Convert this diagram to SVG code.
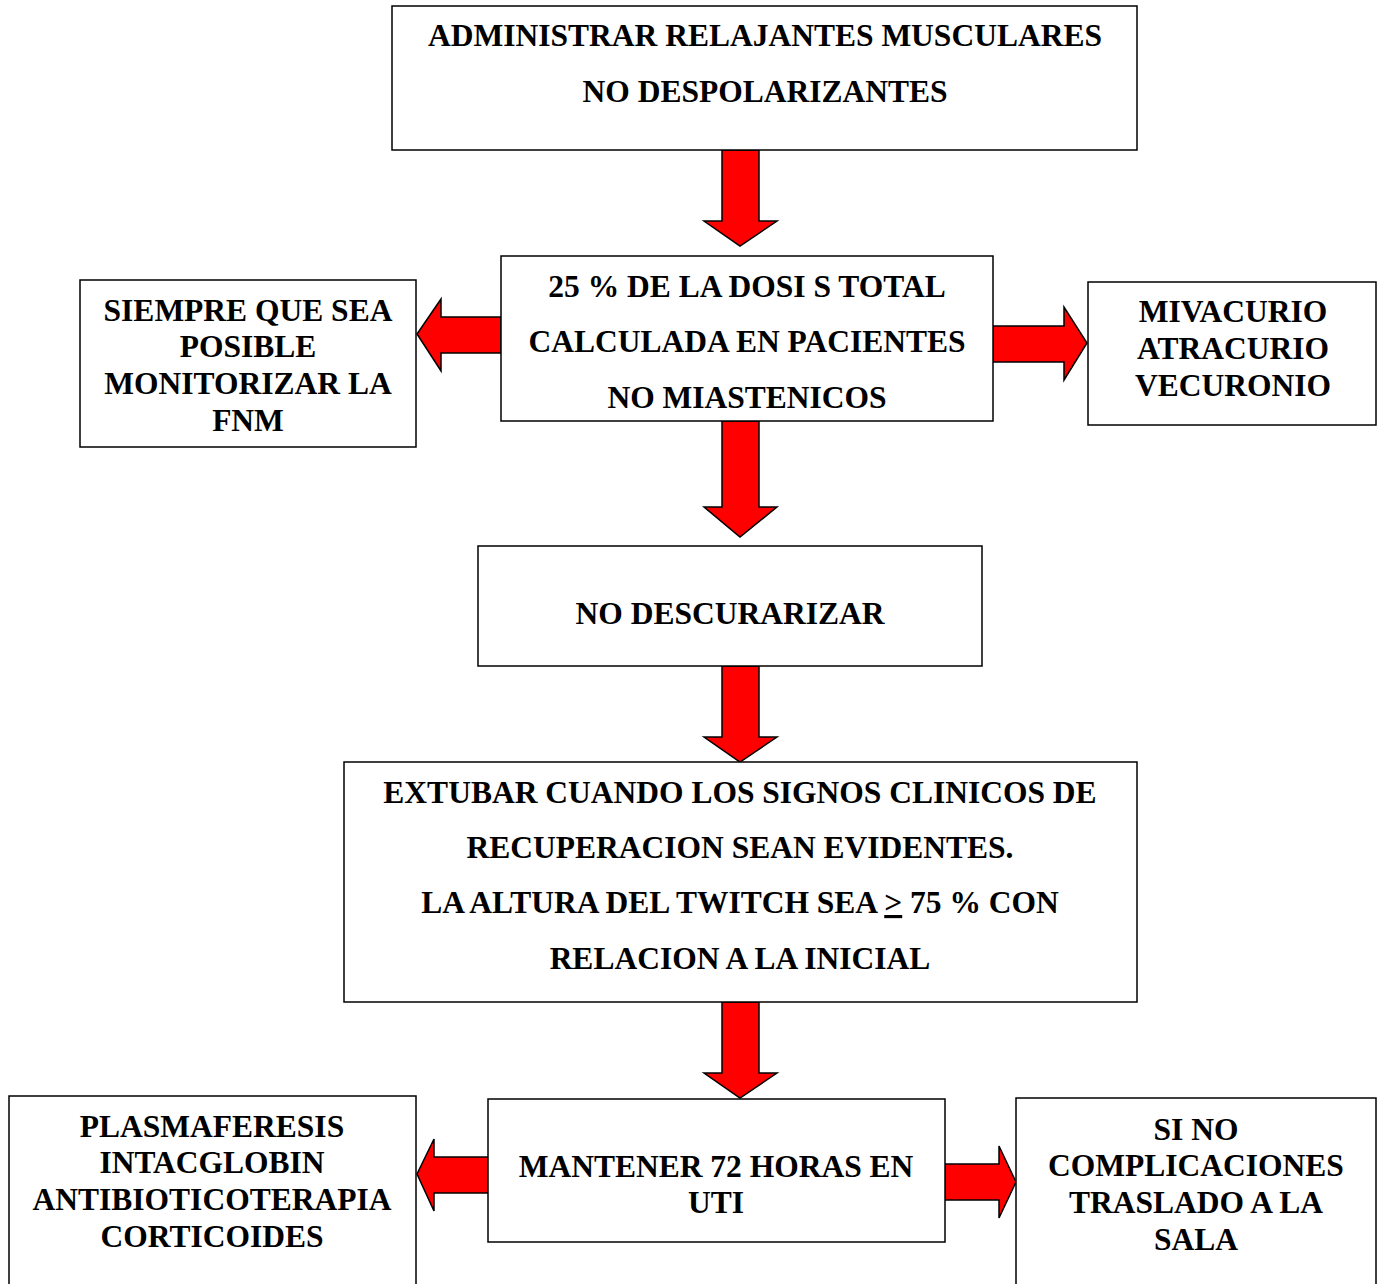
<svg xmlns="http://www.w3.org/2000/svg" width="1377" height="1284" viewBox="0 0 1377 1284">
<style>
.box{fill:#fff;stroke:#000;stroke-width:1.5}
.t{font-family:"Liberation Serif","Times New Roman",serif;font-weight:bold;font-size:31.5px;text-anchor:middle;fill:#000}
.ar{fill:#ff0000;stroke:#000;stroke-width:1.5;stroke-linejoin:miter}
</style>
<rect width="1377" height="1284" fill="#fff"/>
<g id="connectors">
<polygon class="ar" points="722,150 759,150 759,221 777,221 740,246 704,221 722,221"/>
<polygon class="ar" points="722,421 759,421 759,507 777,507 740,537 704,507 722,507"/>
<polygon class="ar" points="722,666 759,666 759,737 777,737 740,762 704,737 722,737"/>
<polygon class="ar" points="722,1002 759,1002 759,1073 777,1073 740,1098 704,1073 722,1073"/>
<polygon class="ar" points="501,317 501,353 441,353 441,371 417,334 441,299 441,317"/>
<polygon class="ar" points="993,326 1064,326 1064,307 1087,343 1064,380 1064,362 993,362"/>
<polygon class="ar" points="488,1157 488,1193 434,1193 434,1211 417,1174 434,1139 434,1157"/>
<polygon class="ar" points="945,1164 999,1164 999,1146 1016,1182 999,1218 999,1200 945,1200"/>
</g>
<g id="n1"><rect class="box" x="392" y="6" width="745" height="144"/>
<text class="t" x="765" y="46">ADMINISTRAR RELAJANTES MUSCULARES</text>
<text class="t" x="765" y="102">NO DESPOLARIZANTES</text></g>
<g id="n2"><rect class="box" x="501" y="256" width="492" height="165"/>
<text class="t" x="747" y="297">25 % DE LA DOSI S TOTAL</text>
<text class="t" x="747" y="352">CALCULADA EN PACIENTES</text>
<text class="t" x="747" y="408">NO MIASTENICOS</text></g>
<g id="n3"><rect class="box" x="80" y="280" width="336" height="167"/>
<text class="t" x="248" y="321">SIEMPRE QUE SEA</text>
<text class="t" x="248" y="357">POSIBLE</text>
<text class="t" x="248" y="394">MONITORIZAR LA</text>
<text class="t" x="248" y="431">FNM</text></g>
<g id="n4"><rect class="box" x="1088" y="282" width="288" height="143"/>
<text class="t" x="1233" y="322">MIVACURIO</text>
<text class="t" x="1233" y="359">ATRACURIO</text>
<text class="t" x="1233" y="396">VECURONIO</text></g>
<g id="n5"><rect class="box" x="478" y="546" width="504" height="120"/>
<text class="t" x="730" y="624">NO DESCURARIZAR</text></g>
<g id="n6"><rect class="box" x="344" y="762" width="793" height="240"/>
<text class="t" x="740" y="803">EXTUBAR CUANDO LOS SIGNOS CLINICOS DE</text>
<text class="t" x="740" y="858">RECUPERACION SEAN EVIDENTES.</text>
<text class="t" x="740" y="913">LA ALTURA DEL TWITCH SEA <tspan text-decoration="underline">&gt;</tspan> 75 % CON</text>
<text class="t" x="740" y="969">RELACION A LA INICIAL</text></g>
<g id="n7"><rect class="box" x="488" y="1099" width="457" height="143"/>
<text class="t" x="716" y="1177">MANTENER 72 HORAS EN</text>
<text class="t" x="716" y="1213">UTI</text></g>
<g id="n8"><rect class="box" x="9" y="1096" width="407" height="200"/>
<text class="t" x="212" y="1137">PLASMAFERESIS</text>
<text class="t" x="212" y="1173">INTACGLOBIN</text>
<text class="t" x="212" y="1210">ANTIBIOTICOTERAPIA</text>
<text class="t" x="212" y="1247">CORTICOIDES</text></g>
<g id="n9"><rect class="box" x="1016" y="1098" width="360" height="200"/>
<text class="t" x="1196" y="1140">SI NO</text>
<text class="t" x="1196" y="1176">COMPLICACIONES</text>
<text class="t" x="1196" y="1213">TRASLADO A LA</text>
<text class="t" x="1196" y="1250">SALA</text></g>
</svg>
